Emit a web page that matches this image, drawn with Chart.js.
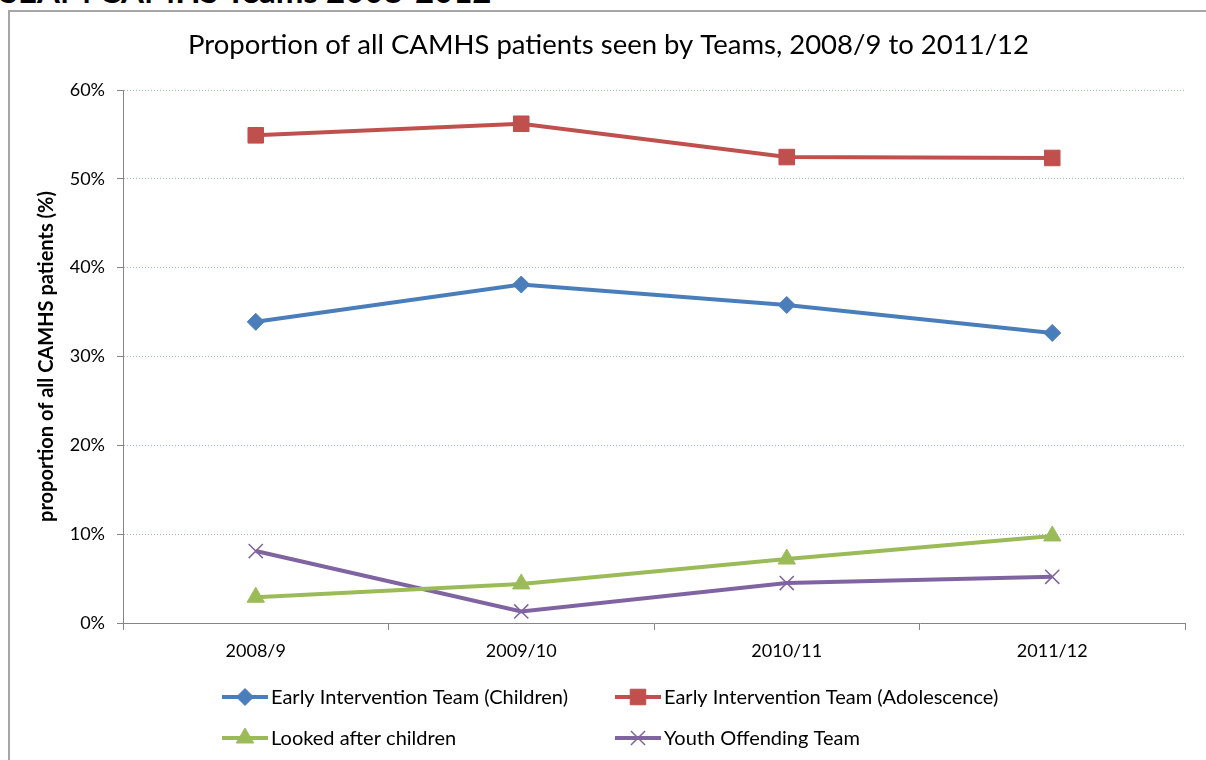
<!DOCTYPE html>
<html>
<head>
<meta charset="utf-8">
<script src="https://cdn.jsdelivr.net/npm/chart.js@4.4.1/dist/chart.umd.min.js"></script>
<style>
  body { margin: 0; background: #fff; width: 1206px; height: 760px; overflow: hidden; position: relative; }
  #heading { position: absolute; left: 0; top: -30px; font: bold 33px Lato, sans-serif; color: #000; white-space: nowrap; }
  #frame { position: absolute; left: 8px; top: 10px; width: 1300px; height: 900px; border: 2px solid #a6a6a6; }
  #wrap { position: absolute; left: 0; top: 0; width: 1206px; height: 760px; }
</style>
</head>
<body>
<div id="heading">SEAM CAMHS Teams 2008-2012</div>
<div id="frame"></div>
<div id="wrap"><canvas id="teamsChart" width="1206" height="760"></canvas></div>
<script>
// values (percent of all CAMHS patients)
const years = ['2008/9', '2009/10', '2010/11', '2011/12'];
const eitChildren = [33.9, 38.1, 35.8, 32.65];
const eitAdolescence = [54.9, 56.2, 52.45, 52.35];
const lookedAfter = [2.9, 4.4, 7.2, 9.8];
const youthOffending = [8.1, 1.3, 4.5, 5.2];

const FONT = 'Lato, sans-serif';

function serie(label, data, color, style, radius, borderW) {
    return {
        label: label,
        data: data,
        borderColor: color,
        backgroundColor: color,
        borderWidth: 4,
        pointStyle: style,
        pointRadius: radius,
        pointHoverRadius: radius,
        pointBorderWidth: borderW,
        pointBorderColor: color,
        pointBackgroundColor: color,
        tension: 0
    };
}

// legend in two fixed columns like the original
const gridLegend = {
    id: 'gridLegend',
    afterDraw(chart) {
        const ctx = chart.ctx;
        const cols = [222, 615];
        const rows = [697, 738];
        chart.data.datasets.forEach((ds, i) => {
            const x0 = cols[i % 2], y = rows[Math.floor(i / 2)];
            ctx.save();
            ctx.strokeStyle = ds.borderColor;
            ctx.lineWidth = 4;
            ctx.beginPath();
            ctx.moveTo(x0, y);
            ctx.lineTo(x0 + 46, y);
            ctx.stroke();
            ctx.fillStyle = ds.backgroundColor;
            ctx.lineWidth = ds.pointBorderWidth;
            Chart.helpers.drawPoint(ctx, {pointStyle: ds.pointStyle, rotation: 0, borderWidth: ds.pointBorderWidth, radius: ds.pointRadius},
                x0 + 23, y);
            ctx.fillStyle = '#000';
            ctx.font = '20px ' + FONT;
            ctx.textBaseline = 'middle';
            ctx.fillText(ds.label, x0 + 49, y + 1);
            ctx.restore();
        });
    }
};

const ctx = document.getElementById('teamsChart').getContext('2d');
new Chart(ctx, {
    type: 'line',
    data: {
        labels: years,
        datasets: [
            serie('Early Intervention Team (Children)', eitChildren, '#4a7ebb', 'rectRot', 8.5, 1),
            serie('Early Intervention Team (Adolescence)', eitAdolescence, '#c0504d', 'rect', 11, 1),
            serie('Looked after children', lookedAfter, '#9bbb59', 'triangle', 10, 1),
            serie('Youth Offending Team', youthOffending, '#8064a2', 'crossRot', 10, 1.5)
        ]
    },
    options: {
        responsive: false,
        animation: false,
        layout: { padding: { left: 32, right: 21, top: 0, bottom: 97 } },
        plugins: {
            legend: { display: false },
            tooltip: { enabled: false },
            title: {
                display: true,
                text: 'Proportion of all CAMHS patients seen by Teams, 2008/9 to 2011/12',
                color: '#000',
                font: { family: FONT, size: 27.5, weight: 'normal' },
                padding: { top: 29, bottom: 28 }
            }
        },
        scales: {
            x: {
                offset: true,
                grid: { offset: true, drawOnChartArea: false, drawTicks: true, tickLength: 7, tickColor: '#868686', tickWidth: 1 },
                border: { color: '#868686', width: 1 },
                ticks: { color: '#000', padding: 10, font: { family: FONT, size: 18 } },
                afterFit: function(scale) { scale.height = 40; }
            },
            y: {
                min: 0,
                max: 60,
                grid: {
                    color: '#9db3e0',
                    lineWidth: 1,
                    tickLength: 6,
                    tickColor: '#868686',
                    tickBorderDash: [],
                    tickWidth: 1
                },
                border: { color: '#868686', width: 1, dash: [1, 2] },
                ticks: {
                    stepSize: 10,
                    color: '#000',
                    padding: 12,
                    font: { family: FONT, size: 18 },
                    callback: v => v + '%'
                },
                title: {
                    display: true,
                    text: 'proportion of all CAMHS patients (%)',
                    color: '#000',
                    font: { family: FONT, size: 20, weight: 'bold' },
                    padding: { top: 3, bottom: 0 }
                },
                afterFit: function(scale) { scale.width = 91; }
            }
        }
    },
    plugins: [gridLegend]
});
</script>
</body>
</html>
